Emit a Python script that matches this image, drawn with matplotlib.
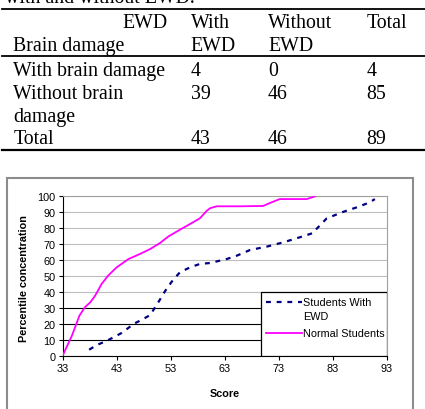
import matplotlib
matplotlib.use("Agg")
import matplotlib.pyplot as plt
from matplotlib.lines import Line2D
from matplotlib.patches import Rectangle

# table data
col_head1 = ["With", "Without", "Total"]
col_head2 = ["EWD", "EWD", ""]
row_labels = ["With brain damage", "Without brain", "Total"]
row_values = [[4, 0, 4], [39, 46, 85], [43, 46, 89]]

# chart data
normal_x = [33.0, 33.7, 34.7, 36.1, 37.1, 38.1, 39.0, 40.2, 41.4, 43.0, 45.2,
            47.3, 49.2, 51.0, 52.6, 54.7, 56.6, 58.4, 59.7, 60.3, 61.5, 65.8,
            70.1, 71.7, 73.2, 78.2, 79.7]
normal_y = [0.4, 5.6, 12.8, 25.3, 30.5, 33.6, 37.7, 45.0, 50.2, 55.4, 60.6,
            63.7, 66.8, 70.5, 74.7, 78.8, 82.4, 85.9, 90.7, 92.2, 93.4, 93.4,
            93.6, 95.9, 97.9, 97.9, 99.6]
ewd_x = [37.9, 39.3, 41.2, 43.9, 44.9, 46.1, 47.9, 49.2, 50.7, 52.0, 53.2,
         54.7, 56.6, 58.4, 60.3, 63.4, 65.2, 67.7, 70.8, 73.9, 76.9, 79.4,
         80.0, 81.9, 85.0, 87.5, 89.9, 90.8]
ewd_y = [4.1, 7.0, 9.7, 14.5, 17.0, 20.1, 23.2, 25.7, 33.6, 40.8, 46.5,
         52.3, 55.4, 57.5, 58.1, 60.6, 62.6, 66.2, 68.3, 71.0, 74.1, 76.8,
         79.3, 85.9, 90.0, 92.8, 95.9, 97.9]
x_ticks = [33, 43, 53, 63, 73, 83, 93]
y_ticks = list(range(0, 101, 10))

W, H = 425, 410
fig = plt.figure(figsize=(W / 100, H / 100), dpi=100)


def px(x, y):
    return x / W, 1 - y / H


serif = {"family": "Liberation Serif", "size": 14.3}

# caption (cut off at top, as in the source page)
fig.text(*px(5, 3), "with and without EWD.", va="baseline", **serif)

# table rules
for y, lw in [(10, 1.3), (56.7, 1.3), (150.7, 1.6)]:
    fig.add_artist(Line2D([2 / W, 1], [1 - y / H] * 2, color="black", lw=lw))

col_x = [190.7, 268, 366.7]
fig.text(*px(168, 28), "EWD", ha="right", va="baseline", **serif)
fig.text(*px(13.3, 51), "Brain damage", va="baseline", **serif)
for cx, h1, h2 in zip(col_x, col_head1, col_head2):
    fig.text(*px(cx, 28), h1, va="baseline", **serif)
    fig.text(*px(cx, 51), h2, va="baseline", **serif)

row_y = [76, 99, 144.3]
for ry, lab, vals in zip(row_y, row_labels, row_values):
    fig.text(*px(13.3, ry), lab, va="baseline", **serif)
    for cx, v in zip(col_x, vals):
        fig.text(*px(cx, ry), str(v), va="baseline", **serif)
fig.text(*px(13.3, 121.7), "damage", va="baseline", **serif)

# chart border
fig.add_artist(Rectangle(px(6.7, 420), (413 - 6.7) / W, (420 - 179) / H,
                         fill=False, edgecolor="#8c8c8c", lw=1.5))

# chart
plt.rcParams["font.family"] = "Liberation Sans"
fs = 7.8
ewd_style = dict(color="#000080", lw=1.6, linestyle=(0, (2.2, 2.6)))
normal_style = dict(color="#ff00ff", lw=1.3)

ax = fig.add_axes([62.7 / W, (H - 357.3) / H, 324 / W, 160.6 / H])
ax.plot(normal_x, normal_y, zorder=3, **normal_style)
ax.plot(ewd_x, ewd_y, zorder=3, **ewd_style)
ax.set_xlim(33, 93)
ax.set_ylim(0, 100)
ax.set_xticks(x_ticks)
ax.set_yticks(y_ticks)
ax.tick_params(labelsize=fs, length=3, width=0.8, direction="out", pad=2)
ax.yaxis.grid(True, color="#bdbdbd", lw=0.8)
for val, gl in zip(y_ticks, ax.get_ygridlines()):
    if val in (10, 20, 30):
        gl.set_color("black")
ax.set_axisbelow(True)
for s in ["top", "right"]:
    ax.spines[s].set_color("#a0a0a0")
ax.set_xlabel("Score", fontsize=fs, fontweight="bold")
ax.set_ylabel("Percentile concentration", fontsize=fs, fontweight="bold")
ax.xaxis.set_label_coords(0.5, -0.197)
ax.yaxis.set_label_coords(-0.104, 0.49)

# legend (Excel style: handle aligned with the first text line)
ax.add_patch(Rectangle((0.611, 0), 0.389, 0.3985, transform=ax.transAxes,
                       facecolor="white", edgecolor="black", lw=0.9, zorder=4))
ax.add_line(Line2D([0.6265, 0.7377], [0.336, 0.336], transform=ax.transAxes,
                   zorder=5, **ewd_style))
ax.add_line(Line2D([0.6265, 0.7377], [0.145, 0.145], transform=ax.transAxes,
                   zorder=5, **normal_style))
for ty, txt in [(0.336, "Students With"), (0.2528, "EWD"), (0.145, "Normal Students")]:
    ax.text(0.7407, ty, txt, transform=ax.transAxes, fontsize=fs,
            va="center", ha="left", zorder=6)

fig.savefig("out.png", dpi=100)
